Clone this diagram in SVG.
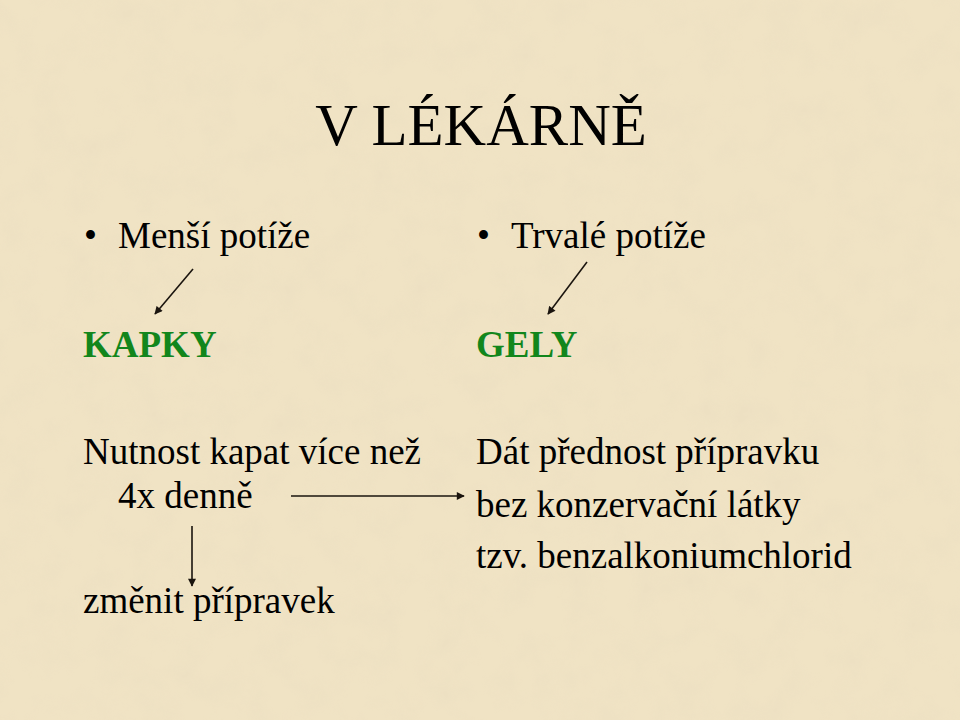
<svg xmlns="http://www.w3.org/2000/svg" width="960" height="720" viewBox="0 0 960 720">
<defs>
<filter id="parch" x="0" y="0" width="100%" height="100%">
<feTurbulence type="fractalNoise" baseFrequency="0.03" numOctaves="4" seed="7" result="n"/>
<feColorMatrix in="n" type="matrix" values="0 0 0 0 0.84  0 0 0 0 0.74  0 0 0 0 0.54  0 0 0 -2.2 1.35" result="c"/>
<feComposite in="c" in2="SourceGraphic" operator="in"/>
</filter>
<marker id="ah" viewBox="0 0 10 10" refX="9" refY="5" markerWidth="9" markerHeight="8" markerUnits="userSpaceOnUse" orient="auto">
<path d="M0,0 L10,5 L0,10 z" fill="#1a140e"/>
</marker>
<style>
text{font-family:"Liberation Serif","Times New Roman",serif;fill:#000;}
.t{font-size:59px;}
.b{font-size:37px;}
.g{font-size:37px;font-weight:bold;fill:#12861c;}
.c{stroke:#1a140e;stroke-width:1.6;fill:none;marker-end:url(#ah);}
</style>
</defs>
<rect width="960" height="720" fill="#f0e3c4"/>
<rect width="960" height="720" fill="#f0e3c4" filter="url(#parch)" opacity="0.6"/>
<g id="title"><text class="t" x="481" y="145" text-anchor="middle">V LÉKÁRNĚ</text></g>
<g id="mensi"><text class="b" x="84" y="248">•</text><text class="b" x="118" y="248">Menší potíže</text></g>
<g id="trvale"><text class="b" x="477" y="248">•</text><text class="b" x="511" y="248">Trvalé potíže</text></g>
<g id="kapky"><text class="g" x="83" y="357">KAPKY</text></g>
<g id="gely"><text class="g" x="476" y="357">GELY</text></g>
<g id="nutnost"><text class="b" x="83" y="464">Nutnost kapat více než</text><text class="b" x="118" y="508">4x denně</text></g>
<g id="zmenit"><text class="b" x="83" y="613">změnit přípravek</text></g>
<g id="dat"><text class="b" x="476" y="464">Dát přednost přípravku</text><text class="b" x="476" y="517">bez konzervační látky</text><text class="b" x="476" y="568">tzv. benzalkoniumchlorid</text></g>
<g id="connectors">
<line class="c" x1="193" y1="269" x2="155" y2="314"/>
<line class="c" x1="587" y1="262" x2="548" y2="314"/>
<line class="c" x1="291" y1="496" x2="464" y2="496"/>
<line class="c" x1="192" y1="526" x2="192" y2="586"/>
</g>
</svg>
